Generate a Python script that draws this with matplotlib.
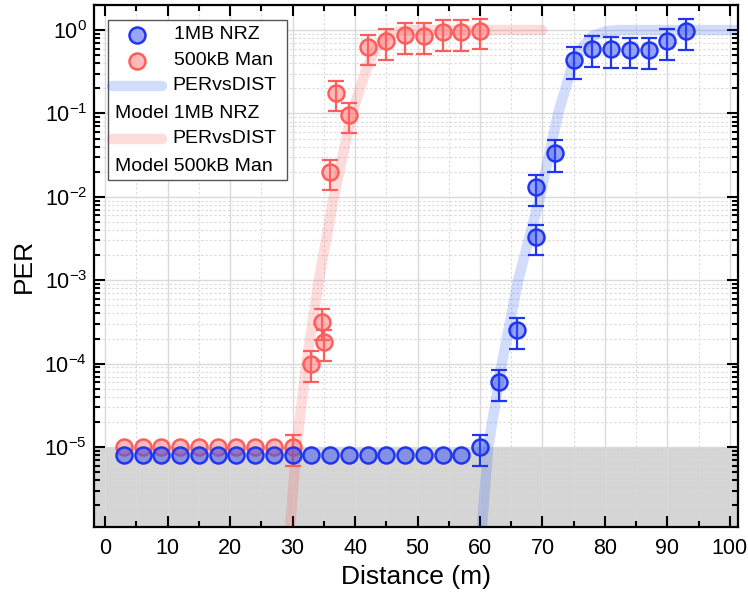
import numpy as np
import matplotlib.pyplot as plt
from matplotlib.patches import Rectangle
from matplotlib.ticker import FixedLocator, LogLocator, MultipleLocator, NullFormatter

plt.rcParams['font.family'] = ['Liberation Sans', 'DejaVu Sans']
plt.rcParams['mathtext.fontset'] = 'custom'
plt.rcParams['mathtext.rm'] = 'Liberation Sans'
plt.rcParams['mathtext.it'] = 'Liberation Sans:italic'
plt.rcParams['mathtext.bf'] = 'Liberation Sans:bold'

# measured PER, 1MB NRZ (err 0 = no error bar drawn)
nrz_dist = [3, 6, 9, 12, 15, 18, 21, 24, 27, 30, 33, 36, 39, 42, 45, 48, 51, 54, 57,
            60, 63, 66, 69, 69, 72, 75, 78, 81, 84, 87, 90, 93]
nrz_per = [8e-6, 8e-6, 8e-6, 8e-6, 8e-6, 8e-6, 8e-6, 8e-6, 8e-6, 8e-6,
           8e-6, 8e-6, 8e-6, 8e-6, 8e-6, 8e-6, 8e-6, 8e-6, 8e-6,
           1e-5, 6e-5, 2.5e-4, 3.3e-3, 1.3e-2, 3.4e-2, 0.44, 0.60, 0.59, 0.58, 0.57, 0.73, 0.97]
nrz_err = [0, 0, 0, 0, 0, 0, 0, 0, 0, 0, 0, 0, 0, 0, 0, 0, 0, 0, 0,
           4e-6, 2.4e-5, 1e-4, 1.3e-3, 5.2e-3, 1.4e-2, 0.18, 0.24, 0.24, 0.23, 0.23, 0.29, 0.39]

# measured PER, 500kB Manchester
man_dist = [3, 6, 9, 12, 15, 18, 21, 24, 27, 30,
            33, 34.7, 35, 36, 37, 39, 42, 45, 48, 51, 54, 57, 60]
man_per = [1e-5, 1e-5, 1e-5, 1e-5, 1e-5, 1e-5, 1e-5, 1e-5, 1e-5, 1e-5,
           1e-4, 3.2e-4, 1.8e-4, 0.02, 0.178, 0.096, 0.63, 0.74, 0.87, 0.86, 0.94, 0.94, 0.98]
man_err = [0, 0, 0, 0, 0, 0, 0, 0, 0, 4e-6,
           4e-5, 1.3e-4, 7.2e-5, 8e-3, 0.07, 0.038, 0.25, 0.3, 0.35, 0.34, 0.38, 0.38, 0.39]

# PERvsDIST model curves
nrz_model_dist = [60.3, 61.3, 63.5, 66.1, 69.6, 72.5, 74.7, 76.2, 78, 80, 82, 101.3]
nrz_model_per = [1.1e-6, 1e-5, 1e-4, 1e-3, 1e-2, 0.1, 0.36, 0.6, 0.85, 0.96, 1.0, 1.0]
man_model_dist = [29.6, 30.6, 32.2, 34.2, 36.6, 39.5, 41.9, 43.3, 45, 47, 49, 70]
man_model_per = [1.1e-6, 1e-5, 1e-4, 1e-3, 1e-2, 0.1, 0.36, 0.6, 0.85, 0.96, 1.0, 1.0]

floor_per = 1e-5
y_decades = [1e-5, 1e-4, 1e-3, 1e-2, 1e-1, 1e0]

blue_edge = '#1f35f0'
blue_face = (0.2, 0.3, 0.95, 0.5)
red_edge = '#ff5c5c'
red_face = (1.0, 0.4, 0.4, 0.45)

fig = plt.figure(figsize=(7.48, 6.01), dpi=100)
ax = fig.add_axes([0.1257, 0.1231, 0.8609, 0.8686])
ax.set_yscale('log')
ax.set_xlim(-1.8, 101.3)
ax.set_ylim(1.1e-6, 2.0)

ax.axhspan(1.1e-6, floor_per, color='#d5d5d5', lw=0, zorder=0.2)

# model bands
ax.plot(nrz_model_dist, nrz_model_per, color='#2050f0', alpha=0.2, lw=7.5,
        solid_capstyle='round', zorder=1)
ax.plot(man_model_dist, man_model_per, color='#ff3030', alpha=0.17, lw=7.5,
        solid_capstyle='round', zorder=1)


def draw_series(dist, per, err, ec, fc):
    dist = np.array(dist)
    per = np.array(per)
    err = np.array(err)
    m = err > 0
    ax.errorbar(dist[m], per[m], yerr=err[m], fmt='none', ecolor=ec,
                elinewidth=1.6, capsize=5.5, capthick=1.6, zorder=2)
    ax.plot(dist, per, 'o', ms=11.5, mfc=fc, mec=ec, mew=1.8, zorder=3)


draw_series(man_dist, man_per, man_err, red_edge, red_face)
draw_series(nrz_dist, nrz_per, nrz_err, blue_edge, blue_face)

# ticks / grid
ax.xaxis.set_major_locator(MultipleLocator(10))
ax.xaxis.set_minor_locator(MultipleLocator(5))
ax.yaxis.set_major_locator(FixedLocator(y_decades))
ax.yaxis.set_minor_locator(LogLocator(base=10, subs=np.arange(2, 10), numticks=20))
ax.yaxis.set_minor_formatter(NullFormatter())
ax.tick_params(which='both', direction='in', top=True, right=True, width=1.5,
               labelsize=15.5)
ax.tick_params(which='major', length=8)
ax.tick_params(which='minor', length=4.5)
ax.tick_params(axis='x', pad=8)
ax.tick_params(axis='y', pad=5)
ax.set_axisbelow(True)
ax.grid(which='major', color='#dadada', lw=1.0, ls='-')
ax.grid(which='minor', color='#dadada', lw=0.8, ls=(0, (2, 2)))
for s in ax.spines.values():
    s.set_linewidth(1.6)

ax.set_xlabel('Distance (m)', fontsize=19, labelpad=4)
ax.set_ylabel('PER', fontsize=19, labelpad=6)

# legend, Origin style (second line of model labels starts under the handle)
def pos(x, y):
    return ((x - 94) / 644, (527 - y) / 522)


ax.add_patch(Rectangle(pos(108, 180), 179 / 644, 160 / 522, transform=ax.transAxes,
                       fc='white', ec='#555555', lw=1.0, zorder=5, clip_on=False))
rows = [35, 61, 86, 114, 139, 166]
for yy, ec, fc, lab in [(rows[0], blue_edge, blue_face, '1MB NRZ'),
                        (rows[1], red_edge, red_face, '500kB Man')]:
    x0, y0 = pos(137, yy)
    ax.plot([x0], [y0], 'o', ms=11.5, mfc=fc, mec=ec, mew=1.8,
            transform=ax.transAxes, zorder=6, clip_on=False)
    ax.text(pos(174, yy)[0], y0, lab, transform=ax.transAxes, fontsize=14,
            va='center', zorder=6)
for yy, col, a, lab in [(rows[2], '#2050f0', 0.2, 'Model 1MB NRZ'),
                        (rows[4], '#ff3030', 0.17, 'Model 500kB Man')]:
    x0, y0 = pos(112, yy)
    x1, _ = pos(162, yy)
    ax.plot([x0, x1], [y0, y0], color=col, alpha=a, lw=7.5, solid_capstyle='round',
            transform=ax.transAxes, zorder=6, clip_on=False)
    ax.text(pos(172, yy)[0], y0, 'PERvsDIST', transform=ax.transAxes, fontsize=14,
            va='center', zorder=6)
    ax.text(pos(115, yy + 28)[0], pos(115, yy + 28)[1], lab, transform=ax.transAxes,
            fontsize=14, va='center', zorder=6)

fig.savefig('out.png', dpi=100)
